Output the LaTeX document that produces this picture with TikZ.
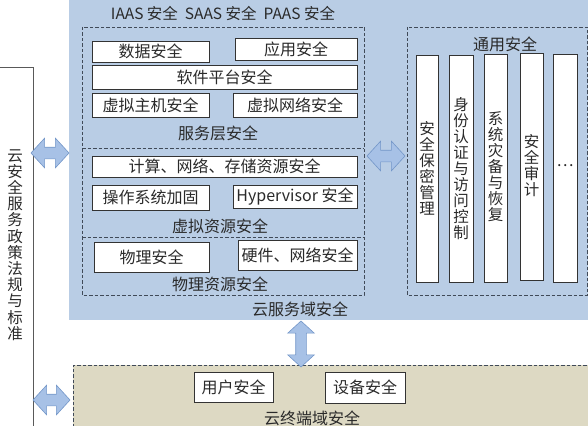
\documentclass[tikz,border=0pt]{standalone}
\usepackage{fontspec}
\setmainfont{Noto Sans CJK SC}
\usetikzlibrary{shapes.arrows}
\definecolor{cloudblue}{HTML}{B9CDE5}
\definecolor{termtan}{HTML}{DDD9C3}
\definecolor{dashcol}{HTML}{404A58}
\definecolor{arrowedge}{HTML}{7396C8}
\definecolor{arrowmid}{HTML}{EEF3FA}
\definecolor{arrowside}{HTML}{A7C1E6}
\definecolor{txtcol}{HTML}{2A2A2A}
\tikzset{
  txt/.style={font=\fontsize{16}{16}\selectfont, text=txtcol, inner sep=0pt},
  vtxt/.style={font=\fontsize{15.5}{16}\selectfont, text=txtcol, inner sep=0pt, align=center},
  box/.style={draw=black!80, line width=0.9pt, fill=white, inner sep=0pt,
    font=\fontsize{16}{16}\selectfont, text=txtcol},
  dashbox/.style={draw=dashcol, dashed, dash pattern=on 3.5pt off 2pt, line width=0.8pt},
  darrow/.style={double arrow, draw=arrowedge, line width=0.6pt,
    top color=arrowside, middle color=arrowmid, bottom color=arrowside,
    inner xsep=0pt, inner ysep=5.5pt, double arrow head extend=9pt,
    double arrow tip angle=95},
}
\begin{document}
\begin{tikzpicture}[x=1pt,y=-1pt]
\useasboundingbox (0,0) rectangle (588,425);
% regions
\fill[cloudblue] (69,-2) rectangle (590,320);
\node[fill=termtan, dashbox, minimum width=520pt, minimum height=62pt, anchor=north west, inner sep=0pt] (term) at (73,365) {};
\node[draw=black!65, line width=1pt, fill=white, anchor=north west, minimum width=35pt, minimum height=362pt, inner sep=0pt] (policy) at (-2,67) {};
\node[vtxt, font=\fontsize{15.5}{16.2}\selectfont] (policytxt) at (15,245) {云\\安\\全\\服\\务\\政\\策\\法\\规\\与\\标\\准};

% top caption
\node[txt, font=\fontsize{15.5}{16}\selectfont] (types) at (223,14) {IAAS 安全\hspace{7pt}SAAS 安全\hspace{7pt}PAAS 安全};

% left dashed area
\draw[dashbox] (82,27) rectangle (364,295);
\draw[dashbox] (82,148) -- (364,148);
\draw[dashbox] (82,237) -- (364,237);

\node[box, minimum width=117pt, minimum height=21pt] (data) at (150.5,51.5) {数据安全};
\node[box, minimum width=122pt, minimum height=22pt] (app) at (296,49) {应用安全};
\node[box, minimum width=265pt, minimum height=24pt] (soft) at (224.5,77) {软件平台安全};
\node[box, minimum width=117pt, minimum height=24pt] (vhost) at (150.5,105) {虚拟主机安全};
\node[box, minimum width=124pt, minimum height=24pt] (vnet) at (295,105) {虚拟网络安全};
\node[txt] (svc) at (218,133) {服务层安全};

\node[box, minimum width=265pt, minimum height=21pt] (comp) at (224.5,166.5) {计算、网络、存储资源安全};
\node[box, minimum width=117pt, minimum height=25pt] (os) at (150.5,197.5) {操作系统加固};
\node[box, minimum width=124pt, minimum height=23pt] (hyp) at (295,196.5) {Hypervisor 安全};
\node[txt] (vres) at (220,226) {虚拟资源安全};

\node[box, minimum width=115pt, minimum height=30pt] (phys) at (151.5,257) {物理安全};
\node[box, minimum width=119pt, minimum height=30pt] (hw) at (297.5,255) {硬件、网络安全};
\node[txt] (pres) at (220,284) {物理资源安全};

\node[txt] (cloudsvc) at (300,309) {云服务域安全};

% right dashed area
\draw[dashbox] (407,27) rectangle (587,295);
\node[txt] (general) at (505,44) {通用安全};
\node[box, minimum width=22pt, minimum height=227pt] (b1) at (427,168.5) {};
\node[box, minimum width=24pt, minimum height=227pt] (b2) at (461,168.5) {};
\node[box, minimum width=23pt, minimum height=228pt] (b3) at (495.5,168) {};
\node[box, minimum width=23pt, minimum height=227pt] (b4) at (531.5,166.5) {};
\node[box, minimum width=24pt, minimum height=228pt] (b5) at (565,168) {};
\node[vtxt] (t1) at (427,168.5) {安\\全\\保\\密\\管\\理};
\node[vtxt] (t2) at (461,168.5) {身\\份\\认\\证\\与\\访\\问\\控\\制};
\node[vtxt] (t3) at (495.5,166.5) {系\\统\\灾\\备\\与\\恢\\复};
\node[vtxt] (t4) at (531.5,166) {安\\全\\审\\计};
\node[txt] (t5) at (565,166) {…};

% terminal boxes
\node[box, minimum width=79pt, minimum height=30pt] (user) at (233.5,387) {用户安全};
\node[box, minimum width=80pt, minimum height=31pt] (dev) at (365,387.5) {设备安全};
\node[txt] (termtxt) at (312,418) {云终端域安全};

% arrows
\node[darrow, minimum height=38pt] (a1) at (50,153) {};
\node[darrow, minimum height=38pt] (a2) at (386,156) {};
\node[darrow, minimum height=37pt] (a3) at (51.5,400) {};
\node[darrow, minimum height=46pt, rotate=90, inner ysep=5pt, double arrow head extend=8pt] (a4) at (301,344) {};
\end{tikzpicture}
\end{document}
